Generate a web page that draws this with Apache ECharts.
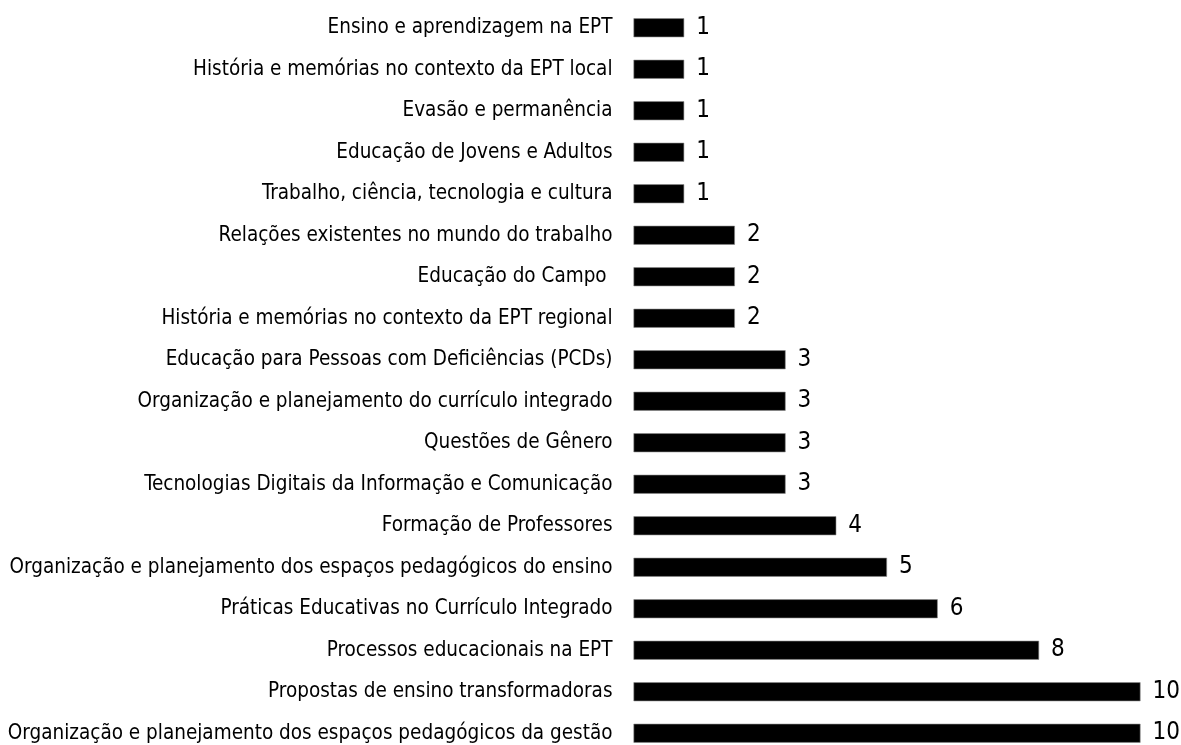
<!DOCTYPE html>
<html><head><meta charset="utf-8">
<script src="https://cdn.jsdelivr.net/npm/echarts@6/dist/echarts.min.js"></script>
<style>html,body{margin:0;padding:0;background:#fff}#c{width:1181px;height:745px}</style>
</head><body><div id="c"></div>
<script>
const categories = [
  "Ensino e aprendizagem na EPT",
  "História e memórias no contexto da EPT local",
  "Evasão e permanência",
  "Educação de Jovens e Adultos",
  "Trabalho, ciência, tecnologia e cultura",
  "Relações existentes no mundo do trabalho",
  "Educação do Campo ",
  "História e memórias no contexto da EPT regional",
  "Educação para Pessoas com Deficiências (PCDs)",
  "Organização e planejamento do currículo integrado",
  "Questões de Gênero",
  "Tecnologias Digitais da Informação e Comunicação",
  "Formação de Professores",
  "Organização e planejamento dos espaços pedagógicos do ensino",
  "Práticas Educativas no Currículo Integrado",
  "Processos educacionais na EPT",
  "Propostas de ensino transformadoras",
  "Organização e planejamento dos espaços pedagógicos da gestão"
];
const values = [1,1,1,1,1,2,2,2,3,3,3,3,4,5,6,8,10,10];

const FONT = '"Liberation Sans Narrow", "Arial Narrow", "DejaVu Sans Condensed", sans-serif';
const chart = echarts.init(document.getElementById('c'));
chart.setOption({
  animation: false,
  grid: { left: 633.5, top: 7, width: 507, height: 747, containLabel: false, outerBoundsMode: 'none' },
  xAxis: { type: 'value', min: 0, max: 10, show: false },
  yAxis: {
    type: 'category', data: categories, inverse: true,
    axisLine: { show: false }, axisTick: { show: false }, splitLine: { show: false },
    axisLabel: { margin: 21, color: '#000', fontFamily: FONT, fontSize: 20.5 }
  },
  series: [{
    type: 'bar', data: values, barWidth: 19,
    itemStyle: { color: '#000', borderColor: '#8a8a8a', borderWidth: 0.6 },
    label: { show: true, position: 'right', distance: 12, color: '#000', fontFamily: FONT, fontSize: 24 }
  }]
});
</script></body></html>
